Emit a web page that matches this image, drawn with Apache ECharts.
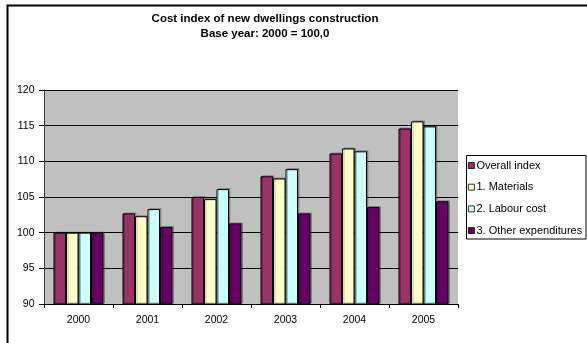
<!DOCTYPE html>
<html>
<head>
<meta charset="utf-8">
<script src="https://cdn.jsdelivr.net/npm/echarts@6/dist/echarts.min.js"></script>
<style>
  html, body { margin: 0; padding: 0; background: #ffffff; }
  #chart { width: 587px; height: 343px; }
</style>
</head>
<body>
<div id="chart"></div>
<script>
// Cost index of new dwellings construction, base year 2000 = 100,0
const years = ['2000', '2001', '2002', '2003', '2004', '2005'];
const overallIndex = [100.0, 102.7, 105.0, 107.9, 111.1, 114.6];
const materials = [100.0, 102.3, 104.7, 107.6, 111.8, 115.6];
const labourCost = [100.0, 103.3, 106.1, 108.9, 111.4, 114.9];
const otherExpenditures = [100.0, 100.8, 101.3, 102.7, 103.6, 104.4];
const seriesNames = ['Overall index', '1. Materials', '2. Labour cost', '3. Other expenditures'];
const seriesColors = ['#993366', '#FFFFCC', '#CCFFFF', '#660066'];
const yTicks = { min: 90, max: 120, step: 5 };

const FONT = '"Liberation Sans", Arial, sans-serif';
const seriesData = [overallIndex, materials, labourCost, otherExpenditures];

const chart = echarts.init(document.getElementById('chart'), null, { renderer: 'canvas' });

chart.setOption({
  backgroundColor: '#ffffff',
  animation: false,
  textStyle: { fontFamily: FONT, color: '#000' },
  title: {
    text: 'Cost index of new dwellings construction\nBase year: 2000 = 100,0',
    left: 265,
    top: 11,
    textAlign: 'center',
    padding: 0,
    textStyle: {
      fontFamily: FONT,
      fontSize: 11.5,
      fontWeight: 'bold',
      color: '#000',
      lineHeight: 15
    }
  },
  grid: {
    left: 44,
    right: 129,
    top: 90,
    bottom: 39,
    show: true,
    backgroundColor: '#C0C0C0',
    borderWidth: 0
  },
  legend: {
    orient: 'vertical',
    left: 468,
    top: 160,
    padding: 0,
    itemWidth: 6,
    itemHeight: 6,
    itemGap: 10.7,
    icon: 'rect',
    itemStyle: {
      borderColor: '#000',
      borderWidth: 0.8,
      shadowColor: 'rgba(0,0,0,0)',
      shadowBlur: 0,
      shadowOffsetX: 0,
      shadowOffsetY: 0
    },
    textStyle: {
      fontFamily: FONT,
      fontSize: 11,
      lineHeight: 11,
      color: '#000',
      padding: [0, 0, 0, -3]
    },
    data: seriesNames
  },
  xAxis: {
    type: 'category',
    data: years,
    axisLine: { show: true, lineStyle: { color: '#000', width: 1 } },
    axisTick: { show: true, alignWithLabel: false, length: 4, lineStyle: { color: '#000' } },
    axisLabel: { fontFamily: FONT, fontSize: 10.5, color: '#000', margin: 11 },
    splitLine: { show: false }
  },
  yAxis: {
    type: 'value',
    min: yTicks.min,
    max: yTicks.max,
    interval: yTicks.step,
    axisLine: { show: true, lineStyle: { color: '#404040', width: 1 } },
    axisTick: { show: true, length: 5, lineStyle: { color: '#000' } },
    axisLabel: { fontFamily: FONT, fontSize: 10.5, color: '#000', margin: 9.5 },
    splitLine: { show: true, lineStyle: { color: '#000', width: 1 } }
  },
  series: seriesNames.map((name, i) => ({
    name: name,
    type: 'bar',
    data: seriesData[i],
    barGap: '0%',
    barCategoryGap: '27.5%',
    itemStyle: {
      color: seriesColors[i],
      borderColor: '#000',
      borderWidth: 1,
      shadowColor: 'rgba(0,0,0,0.25)',
      shadowOffsetX: 1.5,
      shadowOffsetY: -1,
      shadowBlur: 0
    },
    emphasis: { disabled: true }
  })),
  graphic: [
    {
      // outer chart frame (runs past the right and bottom edges)
      type: 'rect',
      z: 100,
      silent: true,
      shape: { x: 7.5, y: 5.5, width: 700, height: 500 },
      style: { fill: null, stroke: '#000', lineWidth: 2 }
    },
    {
      // legend frame
      type: 'rect',
      z: 100,
      silent: true,
      shape: { x: 466.5, y: 155.5, width: 119.5, height: 83.5 },
      style: { fill: null, stroke: '#000', lineWidth: 1 }
    }
  ]
});
</script>
</body>
</html>
